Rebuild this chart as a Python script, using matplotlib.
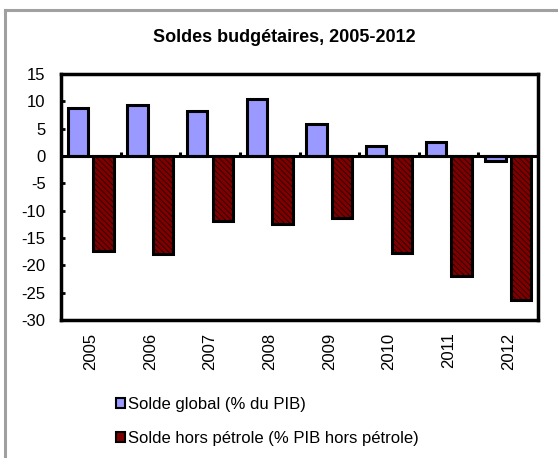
import matplotlib
matplotlib.use("Agg")
import matplotlib.pyplot as plt
import numpy as np
from matplotlib.patches import Patch
from matplotlib.lines import Line2D

plt.rcParams['font.family'] = ['Liberation Sans', 'DejaVu Sans']
plt.rcParams['hatch.linewidth'] = 0.7

years = ['2005', '2006', '2007', '2008', '2009', '2010', '2011', '2012']
solde_global = [8.7, 9.4, 8.2, 10.5, 5.9, 1.9, 2.6, -1.0]
solde_hors_petrole = [-17.4, -17.9, -11.8, -12.4, -11.4, -17.7, -22.0, -26.4]
yticks = [15, 10, 5, 0, -5, -10, -15, -20, -25, -30]

label_global = "Solde global (% du PIB)"
label_hors = "Solde hors pétrole (% PIB hors pétrole)"
title = "Soldes budgétaires, 2005-2012"

blue = '#9999FF'
red = '#800000'

fig = plt.figure(figsize=(5.58, 4.58), dpi=100)
ax = fig.add_axes([0.1093, 0.3013, 0.8549, 0.5371])

x = np.arange(len(years))
w = 0.34
off = 0.215

ax.bar(x - off, solde_global, w, color=blue, edgecolor='black', linewidth=2.2, zorder=3)
# hatched fill, then black outline on top
ax.bar(x + off, solde_hors_petrole, w, color=red, edgecolor='#300000', hatch='\\\\\\\\\\\\',
       linewidth=0, zorder=3)
ax.bar(x + off, solde_hors_petrole, w, fill=False, edgecolor='black', linewidth=2.2, zorder=4)

ax.set_xlim(-0.5, len(years) - 0.5)
ax.set_ylim(-30, 15)
ax.set_yticks(yticks)
ax.set_yticklabels([str(v) for v in yticks], fontsize=12)
ax.tick_params(axis='y', direction='in', length=3, width=2, pad=11)

# category axis crossing at zero, with tick marks at category boundaries
ax.axhline(0, color='black', linewidth=2.2, zorder=5)
ax.vlines(np.arange(0.5, len(years) - 0.5, 1.0), 0, 0.75, color='black', linewidth=2.2, zorder=5)
ax.set_xticks(x)
ax.set_xticklabels(years, rotation=90, fontsize=12)
ax.tick_params(axis='x', length=0, pad=9)

for s in ax.spines.values():
    s.set_linewidth(2.5)
    s.set_color('black')

fig.text(0.509, 0.918, title, ha='center', va='center', fontsize=13, fontweight='bold')

handles = [Patch(facecolor=blue, edgecolor='black', linewidth=1.5),
           Patch(facecolor=red, edgecolor='black', linewidth=1.5)]
fig.legend(handles, [label_global, label_hors], loc='upper left',
           bbox_to_anchor=(0.207, 0.134), frameon=False, fontsize=12,
           handlelength=0.55, handleheight=0.55, handletextpad=0.2, labelspacing=1.15,
           borderpad=0, borderaxespad=0)

# light grey frame along top and left
fig.add_artist(Line2D([0.009, 1.0], [0.979, 0.979], color='#A0A0A0', linewidth=2.2))
fig.add_artist(Line2D([0.009, 0.009], [0.0, 0.979], color='#A0A0A0', linewidth=2.2))

fig.savefig('out.png', dpi=100)
